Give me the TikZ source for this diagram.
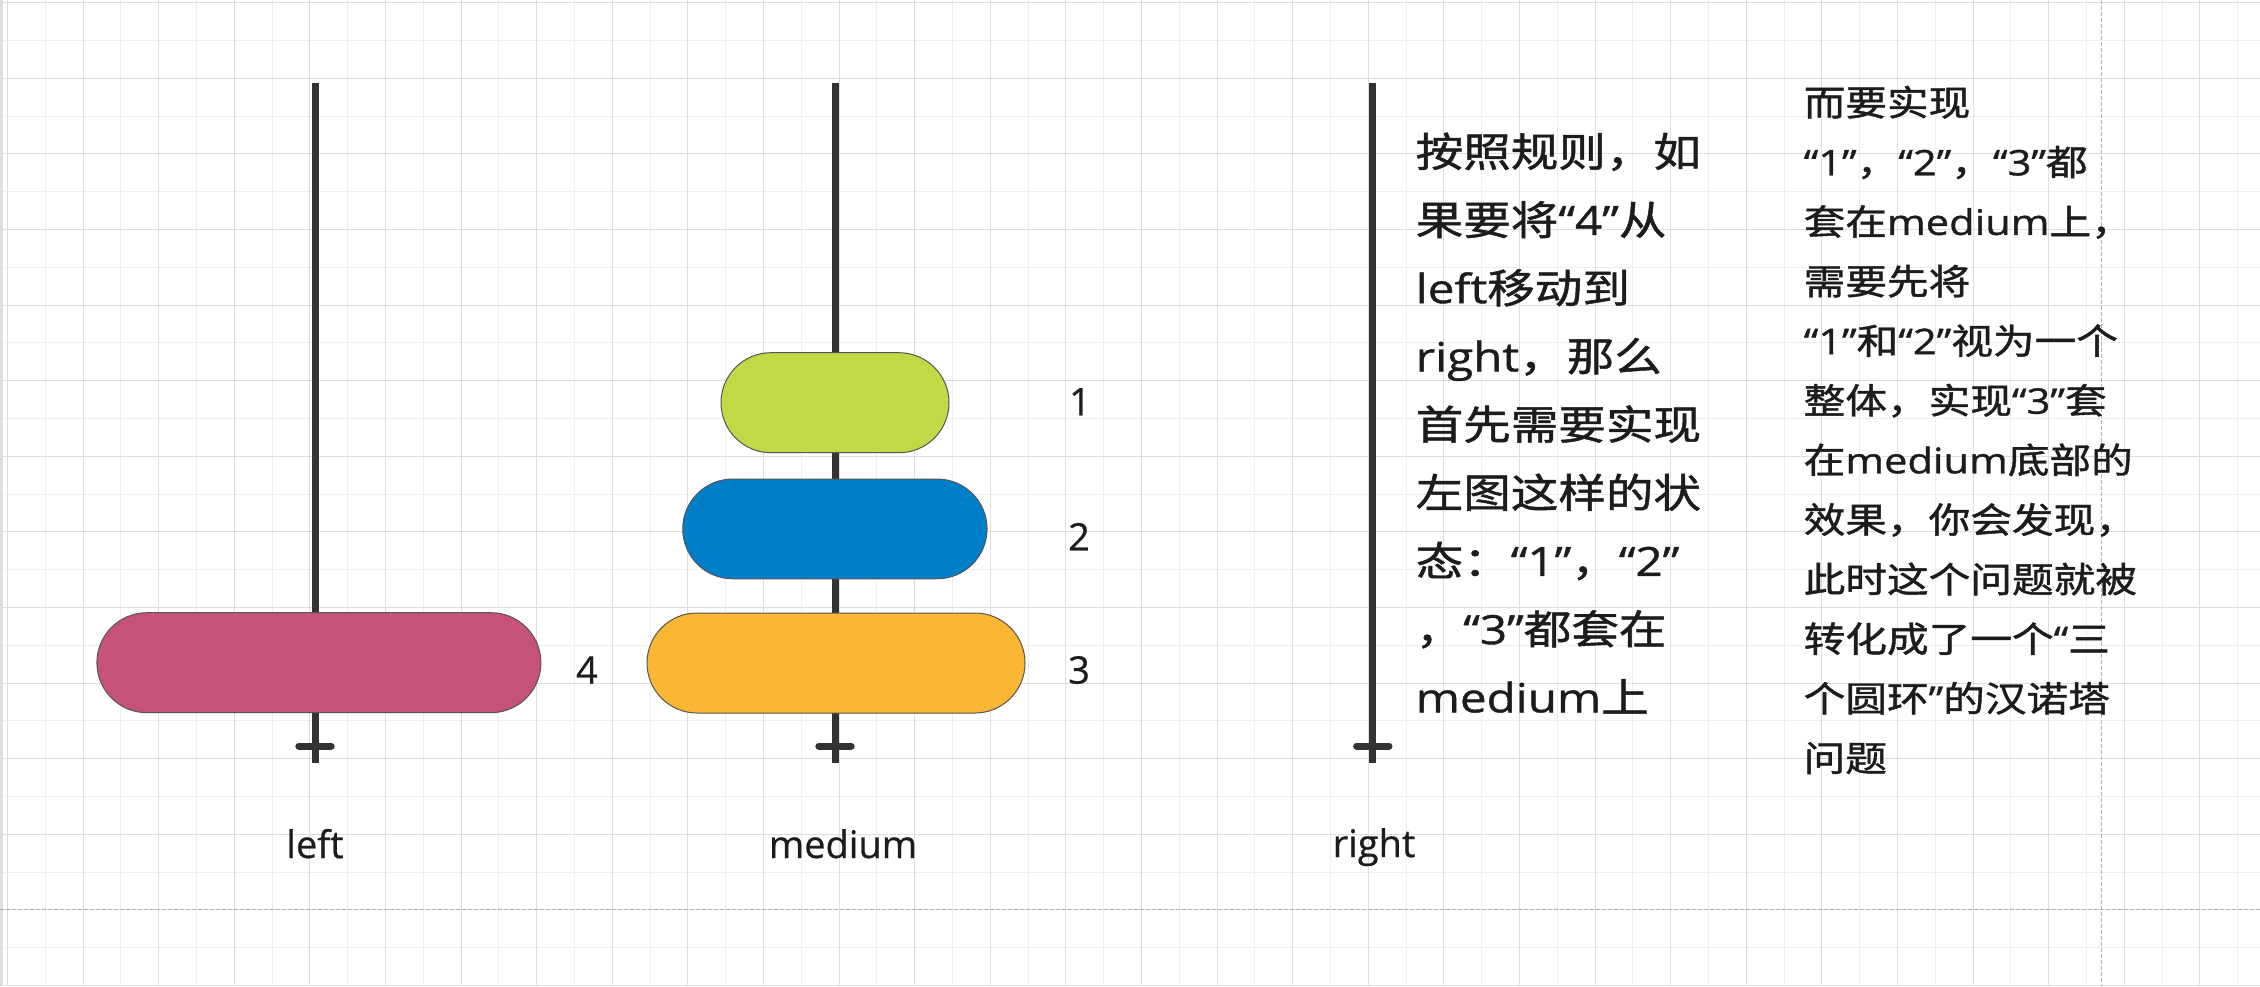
\documentclass[tikz,border=0pt]{standalone}
\usepackage{fontspec}
\setmainfont{Open Sans}
\newfontfamily\labfont{Open Sans}[FakeBold=0.6]
\newfontfamily\cjkw{Noto Sans CJK SC}[FakeStretch=1.18,FakeBold=1.2]
\newfontfamily\latw{Open Sans}[FakeStretch=1.18,FakeBold=1.0]
\newcommand\zh[1]{{\cjkw #1}}
\usetikzlibrary{shapes.misc}
\definecolor{gridmin}{HTML}{EEEEEE}
\definecolor{gridmaj}{HTML}{DEDEDE}
\definecolor{pagedash}{HTML}{B3B3B3}
\definecolor{polec}{HTML}{333333}
\definecolor{pillborder}{HTML}{555555}
\definecolor{pinkc}{HTML}{C65278}
\definecolor{orangec}{HTML}{FBB733}
\definecolor{bluec}{HTML}{007FC9}
\definecolor{greenc}{HTML}{C1D945}
\definecolor{txt}{HTML}{1C1C1C}
\begin{document}
\begin{tikzpicture}[x=1pt,y=-1pt,
  gridminor/.style={draw=gridmin, line width=1pt},
  gridmajor/.style={draw=gridmaj, line width=1pt},
  pagedashed/.style={draw=pagedash, line width=1.5pt, dash pattern=on 4pt off 2pt},
  polestyle/.style={draw=polec, line width=7pt},
  crossbar/.style={draw=polec, line width=7pt, line cap=round},
  pill/.style={rounded rectangle, draw=pillborder, line width=1pt, inner sep=0pt},
  numlabel/.style={font=\labfont\fontsize{38}{46}\selectfont, text=txt, inner sep=0pt},
  collabel/.style={font=\labfont\fontsize{38}{46}\selectfont, text=txt, inner sep=0pt, anchor=base},
  textblock/.style={text=txt, inner sep=0pt, anchor=north west, align=left}
]
\useasboundingbox (0,0) rectangle (2260,986);
\fill[white] (0,0) rectangle (2260,986);
% grid
\foreach \i in {0,...,29} {
  \draw[gridminor] ({45.3+75.6*\i},0) -- ({45.3+75.6*\i},986);
}
\foreach \i in {0,...,12} {
  \draw[gridminor] (0,{40.5+75.6*\i}) -- (2260,{40.5+75.6*\i});
}
\foreach \i in {0,...,29} {
  \draw[gridmajor] ({7.5+75.6*\i},0) -- ({7.5+75.6*\i},986);
}
\foreach \i in {0,...,13} {
  \draw[gridmajor] (0,{2.7+75.6*\i}) -- (2260,{2.7+75.6*\i});
}
\draw[draw=gridmaj, line width=3pt] (1.5,0) -- (1.5,986);
% page boundaries
\draw[pagedashed] (0,909.3) -- (2260,909.3);
\draw[pagedashed] (2101.5,0) -- (2101.5,986);

% poles
\coordinate (Ltop) at (315,82.7);   \coordinate (Lbot) at (315,762.7);
\coordinate (Mtop) at (835,82.7);   \coordinate (Mbot) at (835,762.7);
\coordinate (Rtop) at (1372.8,82.7);\coordinate (Rbot) at (1372.8,762.7);
\coordinate (Lcl) at (298.8,746);   \coordinate (Lcr) at (331.2,746);
\coordinate (Mcl) at (818.8,746);   \coordinate (Mcr) at (851.2,746);
\coordinate (Rcl) at (1356.6,746);  \coordinate (Rcr) at (1389,746);
\draw[polestyle] (Ltop) -- (Lbot);
\draw[polestyle] (Mtop) -- (Mbot);
\draw[polestyle] (Rtop) -- (Rbot);
\draw[crossbar] (Lcl) -- (Lcr);
\draw[crossbar] (Mcl) -- (Mcr);
\draw[crossbar] (Rcl) -- (Rcr);

% disks
\node[pill, fill=pinkc,   minimum width=444,   minimum height=100] (d4) at (318.9,662.7) {};
\node[pill, fill=orangec, minimum width=378,   minimum height=100] (d3) at (836,663) {};
\node[pill, fill=bluec,   minimum width=304.3, minimum height=99.7] (d2) at (834.9,528.9) {};
\node[pill, fill=greenc,  minimum width=228,   minimum height=100] (d1) at (835,402.7) {};

% disk labels
\node[numlabel] (l4) at (587,670) {4};
\node[numlabel] (l1) at (1080,401.7) {1};
\node[numlabel] (l2) at (1079,536.7) {2};
\node[numlabel] (l3) at (1079,670) {3};

% column labels
\node[collabel] (cleft) at (315,858) {left};
\node[collabel] (cmed) at (843,858) {medium};
\node[collabel] (cright) at (1374,857) {right};

% text blocks
\node[textblock, font=\latw\fontsize{40.3}{68.2}\selectfont] (note1) at (1415.5,126.2)
{\rule{0pt}{40.3pt}\zh{按照规则，如}\\
\zh{果要将}“4”\zh{从}\\
left\zh{移动到}\\
right\zh{，那么}\\
\zh{首先需要实现}\\
\zh{左图这样的状}\\
\zh{态：}“1”\zh{，}“2”\\
\zh{，}“3”\zh{都套在}\\
medium\zh{上}};

\node[textblock, font=\latw\fontsize{35.3}{59.6}\selectfont] (note2) at (1803.5,80.2)
{\rule{0pt}{35.3pt}\zh{而要实现}\\
“1”\zh{，}“2”\zh{，}“3”\zh{都}\\
\zh{套在}medium\zh{上，}\\
\zh{需要先将}\\
“1”\zh{和}“2”\zh{视为一个}\\
\zh{整体，实现}“3”\zh{套}\\
\zh{在}medium\zh{底部的}\\
\zh{效果，你会发现，}\\
\zh{此时这个问题就被}\\
\zh{转化成了一个}“\zh{三}\\
\zh{个圆环}”\zh{的汉诺塔}\\
\zh{问题}};
\end{tikzpicture}
\end{document}
